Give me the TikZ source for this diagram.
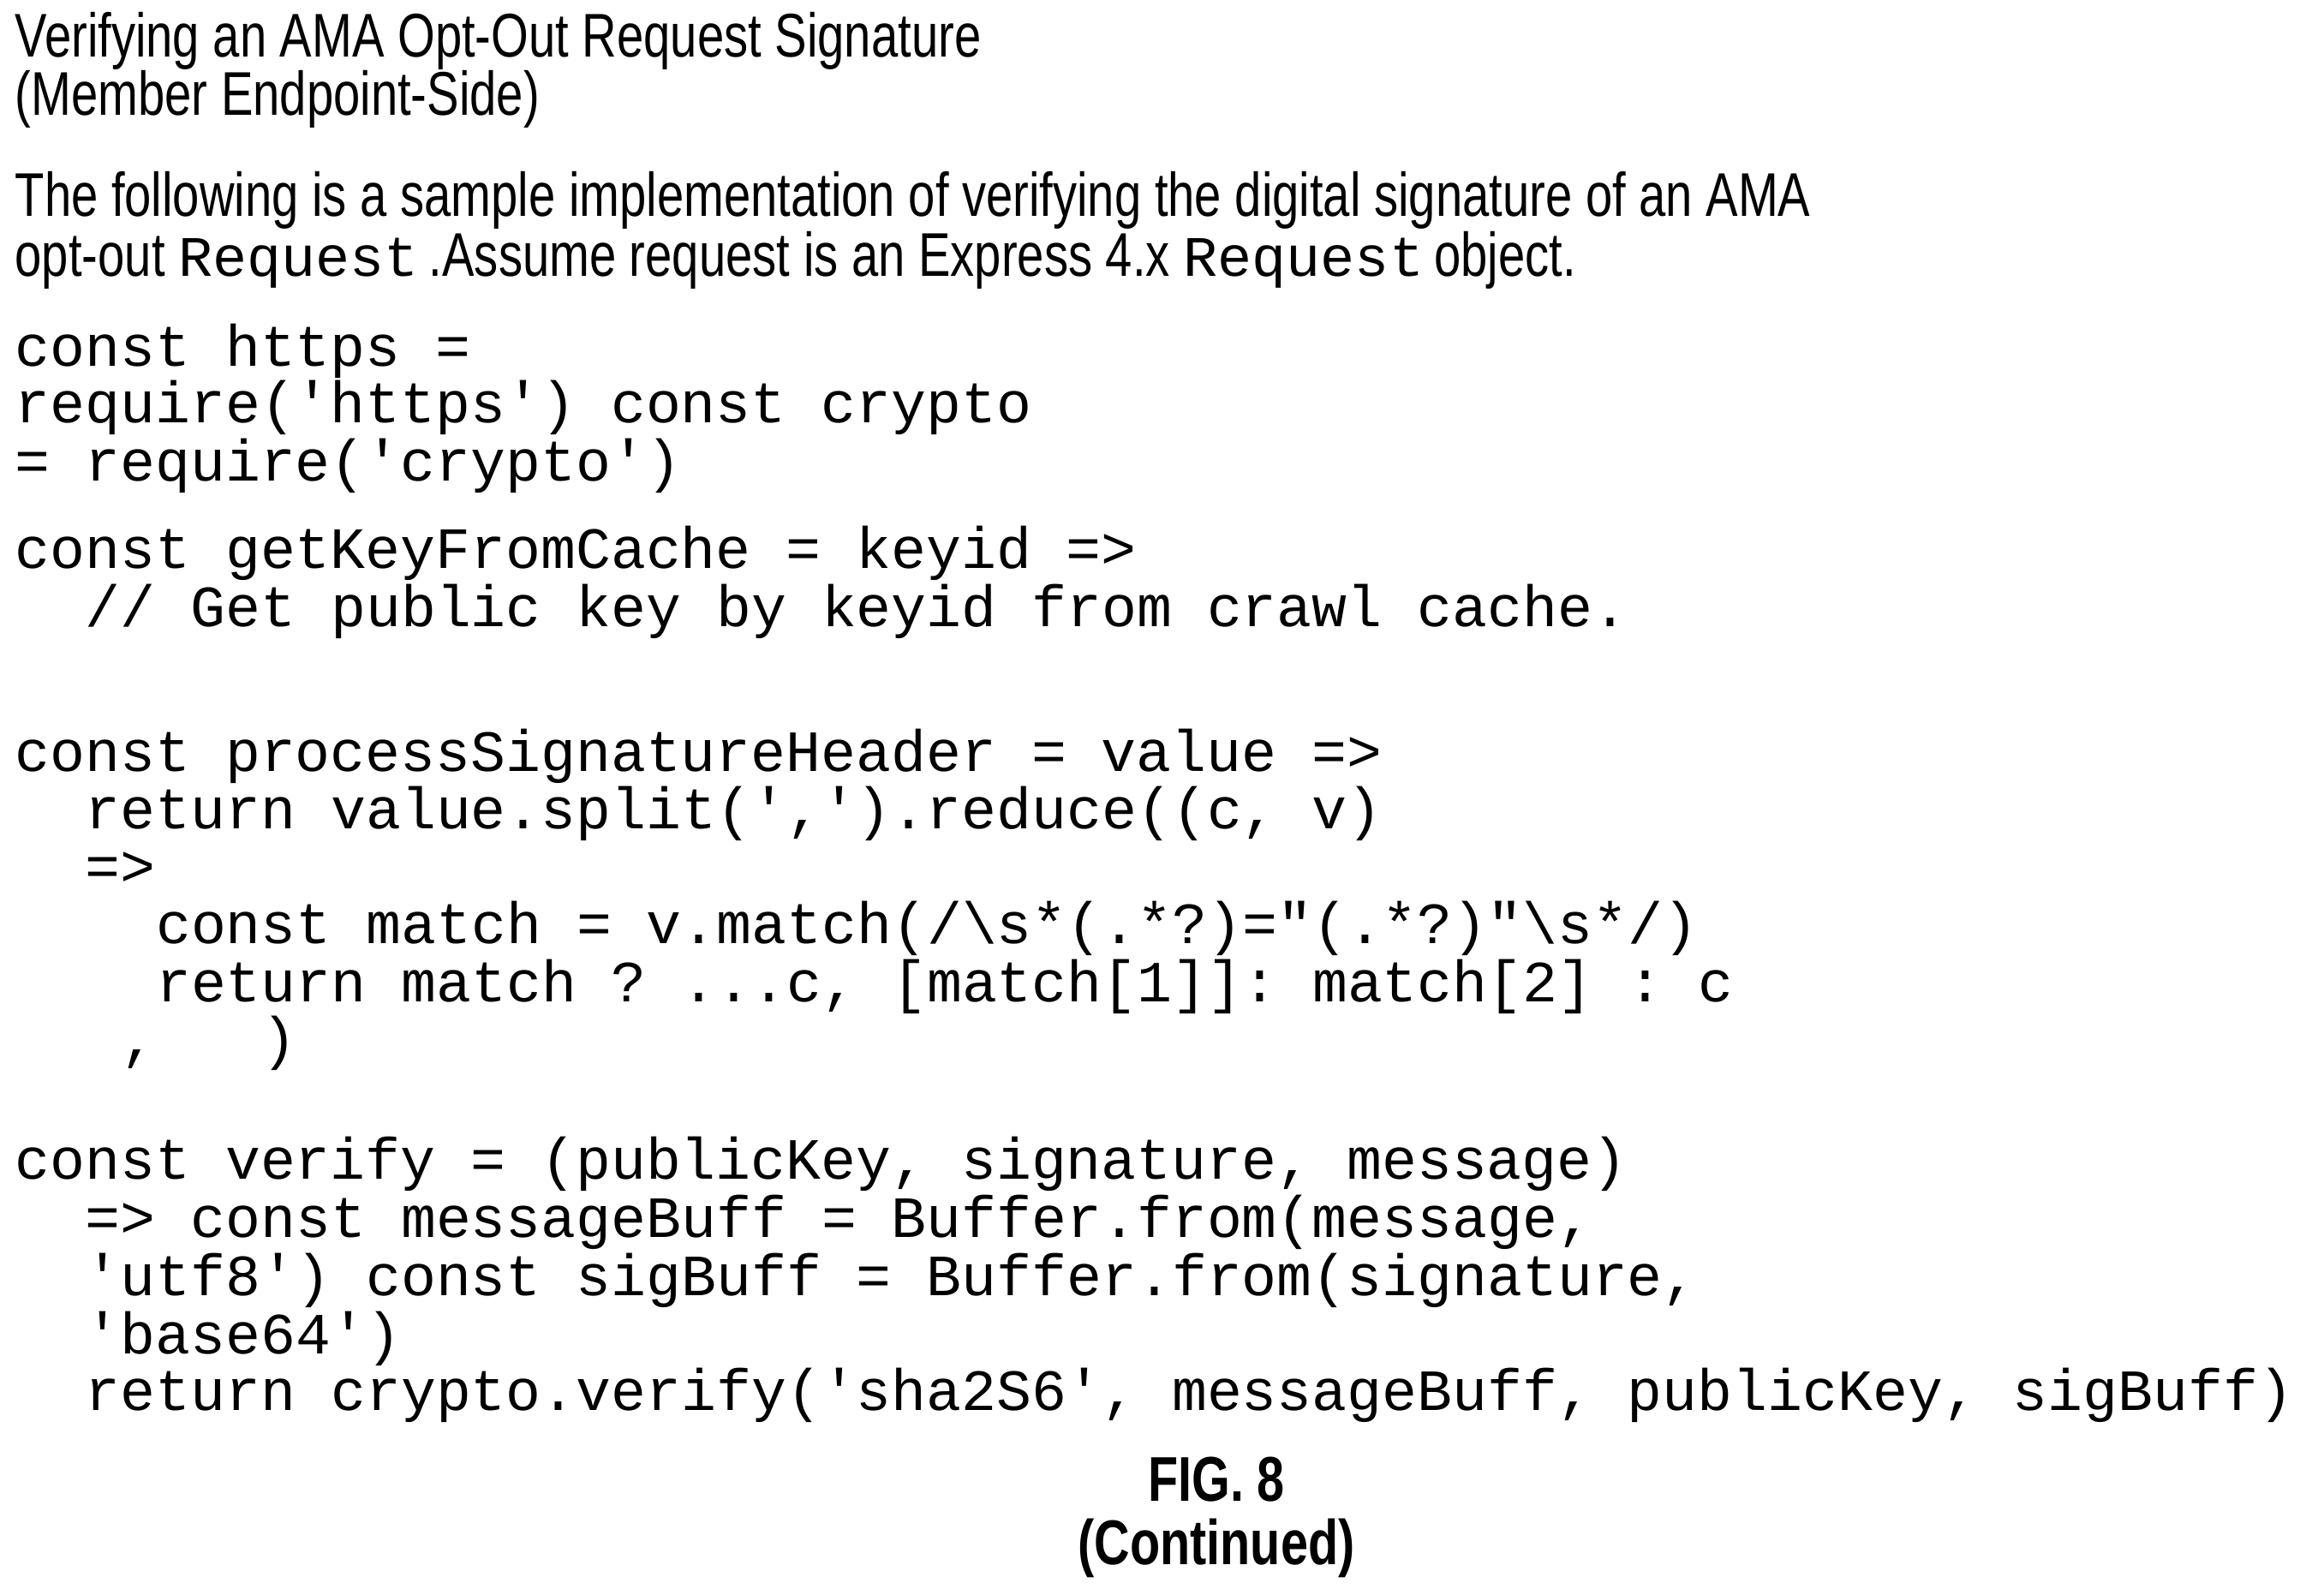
\documentclass[tikz,border=0pt]{standalone}
\usepackage{fontspec}
\setmainfont{Liberation Sans}[FakeStretch=0.78]
\setmonofont{Liberation Mono}
\tikzset{
  txt/.style={anchor=base west,inner sep=0pt,font=\fontsize{20.5}{24}\selectfont},
  code/.style={anchor=base west,inner sep=0pt,font=\fontsize{19.4}{24}\ttfamily},
  fig/.style={anchor=base,inner sep=0pt,font=\fontsize{21}{24}\bfseries}
}
\newcommand{\col}[1]{0.17+#1*0.411}
\begin{document}
\begin{tikzpicture}
\useasboundingbox (0,0) rectangle (27.13,-18.62);
% heading
\node[txt] (title1) at (0.17,-0.67) {Verifying an AMA Opt-Out Request Signature};
\node[txt] (title2) at (0.17,-1.35) {(Member Endpoint-Side)};
\node[txt] (para1) at (0.17,-2.53) {The following is a sample implementation of verifying the digital signature of an AMA};
\node[txt] (para2) at (0.17,-3.22) {opt-out {\ttfamily\fontsize{19}{24}\selectfont Request}\,.Assume request is an Express 4.x {\ttfamily\fontsize{19}{24}\selectfont Request}\,object.};
% code
\node[code] (c1) at (\col{0},-4.27) {const https =};
\node[code] (c2) at (\col{0},-4.93) {require('https') const crypto};
\node[code] (c3) at (\col{0},-5.61) {= require('crypto')};
\node[code] (c4) at (\col{0},-6.63) {const getKeyFromCache = keyid =>};
\node[code] (c5) at (\col{2},-7.31) {// Get public key by keyid from crawl cache.};
\node[code] (c6) at (\col{0},-9.0) {const processSignatureHeader = value =>};
\node[code] (c7) at (\col{2},-9.67) {return value.split(',').reduce((c, v)};
\node[code] (c8) at (\col{2},-10.34) {=>};
\node[code] (c9) at (\col{4},-11.01) {const match = v.match(/\textbackslash s*(.*?)="(.*?)"\textbackslash s*/)};
\node[code] (c10) at (\col{4},-11.69) {return match ? ...c, [match[1]]: match[2] : c};
\node[code] (c11a) at (\col{3},-12.35) {,};
\node[code] (c11b) at (\col{7},-12.35) {)};
\node[code] (c12) at (\col{0},-13.76) {const verify = (publicKey, signature, message)};
\node[code] (c13) at (\col{2},-14.44) {=> const messageBuff = Buffer.from(message,};
\node[code] (c14) at (\col{2},-15.12) {'utf8') const sigBuff = Buffer.from(signature,};
\node[code] (c15) at (\col{2},-15.8) {'base64')};
\node[code] (c16) at (\col{2},-16.46) {return crypto.verify('sha2S6', messageBuff, publicKey, sigBuff)};
% caption
\node[fig] (fig) at (14.2,-17.52) {FIG. 8};
\node[fig] (cont) at (14.2,-18.26) {(Continued)};
\end{tikzpicture}
\end{document}
